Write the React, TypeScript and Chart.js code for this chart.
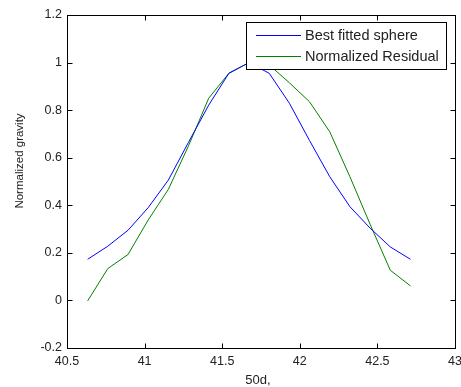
import React, { useEffect, useRef } from "react";
import { Chart, registerables } from "chart.js";

Chart.register(...registerables);

const xValues = [40.633, 40.763, 40.893, 41.023, 41.153, 41.283, 41.413, 41.543, 41.673, 41.803, 41.933, 42.063, 42.193, 42.323, 42.453, 42.583, 42.713];
const fittedSphere = [0.173, 0.228, 0.295, 0.39, 0.506, 0.665, 0.821, 0.955, 1.0, 0.955, 0.829, 0.672, 0.52, 0.394, 0.304, 0.225, 0.173];
const normalizedResidual = [-0.002, 0.134, 0.193, 0.338, 0.467, 0.65, 0.85, 0.955, 1.0, 0.99, 0.915, 0.835, 0.709, 0.52, 0.32, 0.127, 0.061];
const seriesLabels = ["Best fitted sphere", "Normalized Residual"];
const seriesColors = ["#0000ff", "#008000"];
const xTicks = [40.5, 41, 41.5, 42, 42.5, 43];
const yTicks = [-0.2, 0, 0.2, 0.4, 0.6, 0.8, 1, 1.2];
const xTitle = "50d,";
const yTitle = "Normalized gravity";

const FONT = "'Liberation Sans', Arial, sans-serif";
const W = 461;
const H = 387;

const framePlugin = {
  id: "matlabFrame",
  afterDraw(chart: any) {
    const { ctx, chartArea } = chart;
    const { left, right, top, bottom } = chartArea;
    const xs = chart.scales.x;
    const ys = chart.scales.y;
    ctx.save();
    ctx.strokeStyle = "#000";
    ctx.lineWidth = 1;
    const L = Math.round(left) + 0.5;
    const R = Math.round(right) + 0.5;
    const T = Math.round(top) + 0.5;
    const B = Math.round(bottom) + 0.5;
    ctx.strokeRect(L, T, R - L, B - T);
    const tl = 5;
    ctx.beginPath();
    xTicks.forEach((v) => {
      const px = Math.round(xs.getPixelForValue(v)) + 0.5;
      ctx.moveTo(px, B);
      ctx.lineTo(px, B - tl);
      ctx.moveTo(px, T);
      ctx.lineTo(px, T + tl);
    });
    yTicks.forEach((v) => {
      const py = Math.round(ys.getPixelForValue(v)) + 0.5;
      ctx.moveTo(L, py);
      ctx.lineTo(L + tl, py);
      ctx.moveTo(R, py);
      ctx.lineTo(R - tl, py);
    });
    ctx.stroke();

    // axis titles
    ctx.fillStyle = "#222";
    ctx.font = `13px ${FONT}`;
    ctx.textAlign = "center";
    ctx.textBaseline = "alphabetic";
    ctx.fillText(xTitle, 258, 384);
    ctx.save();
    ctx.translate(20, 161);
    ctx.rotate(-Math.PI / 2);
    ctx.font = `11.5px ${FONT}`;
    ctx.textBaseline = "middle";
    ctx.fillText(yTitle, 0, 0);
    ctx.restore();

    // legend
    const bx = 246.5, by = 22.5, bw = 200, bh = 47;
    ctx.fillStyle = "#fff";
    ctx.fillRect(bx, by, bw, bh);
    ctx.strokeStyle = "#000";
    ctx.strokeRect(bx, by, bw, bh);
    ctx.font = `14.5px ${FONT}`;
    ctx.textAlign = "left";
    ctx.textBaseline = "middle";
    seriesLabels.forEach((label, i) => {
      const y = 35.5 + i * 21;
      ctx.strokeStyle = seriesColors[i];
      ctx.beginPath();
      ctx.moveTo(256, y);
      ctx.lineTo(301, y);
      ctx.stroke();
      ctx.fillStyle = "#222";
      ctx.fillText(label, 305, y);
    });
    ctx.restore();
  },
};

export default function App() {
  const ref = useRef<HTMLCanvasElement | null>(null);
  useEffect(() => {
    document.body.style.margin = "0";
    const canvas = ref.current;
    if (!canvas) return;
    const chart = new Chart(canvas, {
      type: "line",
      data: {
        datasets: [fittedSphere, normalizedResidual].map((vals, i) => ({
          label: seriesLabels[i],
          data: vals.map((y, j) => ({ x: xValues[j], y })),
          borderColor: seriesColors[i],
          backgroundColor: seriesColors[i],
          borderWidth: 1,
          pointRadius: 0,
          tension: 0,
          fill: false,
        })),
      },
      options: {
        responsive: false,
        animation: false,
        layout: { padding: { top: 15, right: 6, left: 0, bottom: 0 } },
        plugins: { legend: { display: false }, tooltip: { enabled: false } },
        scales: {
          x: {
            type: "linear",
            min: 40.5,
            max: 43,
            grid: { display: false, drawTicks: false },
            border: { display: false },
            afterBuildTicks: (s: any) => {
              s.ticks = xTicks.map((v) => ({ value: v }));
            },
            afterFit: (s: any) => {
              s.height = 39;
              s.paddingLeft = 0;
              s.paddingRight = 0;
            },
            ticks: {
              padding: 6,
              color: "#222",
              maxRotation: 0,
              autoSkip: false,
              font: { family: FONT, size: 12.5 },
              callback: (v: any) => String(Number(v)),
            },
          },
          y: {
            type: "linear",
            min: -0.2,
            max: 1.2,
            grid: { display: false, drawTicks: false },
            border: { display: false },
            afterBuildTicks: (s: any) => {
              s.ticks = yTicks.map((v) => ({ value: v }));
            },
            afterFit: (s: any) => {
              s.width = 67;
              s.paddingTop = 0;
              s.paddingBottom = 0;
            },
            ticks: {
              padding: 5,
              color: "#222",
              autoSkip: false,
              font: { family: FONT, size: 12.5 },
              callback: (v: any) => String(Number(v)),
            },
          },
        },
      },
      plugins: [framePlugin],
    });
    return () => chart.destroy();
  }, []);
  return (
    <div style={{ position: "fixed", left: 0, top: 0, width: W, height: H, background: "#fff" }}>
      <canvas ref={ref} width={W} height={H} style={{ display: "block", width: W, height: H }} />
    </div>
  );
}
